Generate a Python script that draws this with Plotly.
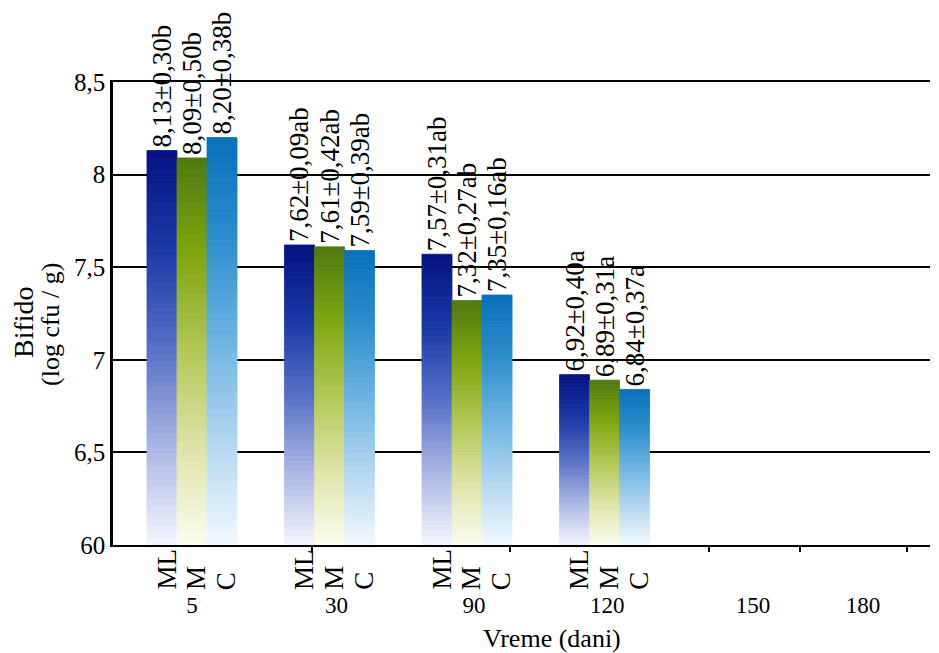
import plotly.graph_objects as go

# ---------------- data ----------------
days = ["5", "30", "90", "120", "150", "180"]
series = ["ML", "M", "C"]
ml_vals = [8.13, 7.62, 7.57, 6.92]
m_vals = [8.09, 7.61, 7.32, 6.89]
c_vals = [8.20, 7.59, 7.35, 6.84]
ml_lbl = ["8,13±0,30b", "7,62±0,09ab", "7,57±0,31ab", "6,92±0,40a"]
m_lbl = ["8,09±0,50b", "7,61±0,42ab", "7,32±0,27ab", "6,89±0,31a"]
c_lbl = ["8,20±0,38b", "7,59±0,39ab", "7,35±0,16ab", "6,84±0,37a"]
y_ticks = [6, 6.5, 7, 7.5, 8, 8.5]
y_ticktext = ["60", "6,5", "7", "7,5", "8", "8,5"]

# ---------------- styling ----------------
FONT = "Liberation Serif, Times New Roman, serif"
BASE = 6.0
NSEG = 60
BARGAP = 0.345
grad = {
    "ML": [(0.0, (244, 246, 253)), (0.25, (170, 182, 228)), (0.5, (88, 112, 198)),
           (0.75, (26, 56, 166)), (1.0, (6, 18, 130))],
    "M": [(0.0, (252, 252, 240)), (0.25, (222, 228, 168)), (0.5, (178, 200, 88)),
          (0.75, (128, 166, 16)), (1.0, (78, 122, 16))],
    "C": [(0.0, (242, 249, 254)), (0.25, (180, 215, 240)), (0.5, (110, 180, 226)),
          (0.75, (46, 142, 204)), (1.0, (8, 112, 188))],
}


def color_at(stops, f):
    for (f0, c0), (f1, c1) in zip(stops[:-1], stops[1:]):
        if f <= f1:
            t = (f - f0) / (f1 - f0)
            return "rgb(%d,%d,%d)" % tuple(round(a + (b - a) * t) for a, b in zip(c0, c1))
    return "rgb(%d,%d,%d)" % stops[-1][1]


xpos = list(range(len(ml_vals)))
fig = go.Figure()
for name, vals, lbls in [("ML", ml_vals, ml_lbl), ("M", m_vals, m_lbl), ("C", c_vals, c_lbl)]:
    h = [v - BASE for v in vals]
    for k in range(NSEG):
        f = (k + 0.5) / NSEG
        top = k == NSEG - 1
        col = color_at(grad[name], f)
        fig.add_trace(go.Bar(
            x=xpos,
            y=[hh / NSEG for hh in h],
            base=[BASE + hh * k / NSEG for hh in h],
            offsetgroup=name,
            marker=dict(color=col, line=dict(width=0.8, color=col)),
            text=lbls if top else None,
            textposition="outside" if top else "none",
            textangle=-90,
            constraintext="none",
            cliponaxis=False,
            textfont=dict(family=FONT, size=27, color="black"),
            showlegend=False,
            hoverinfo="skip",
        ))

# page geometry (the page body adds an 8px offset)
PL, PR, PT, PB = 113, 930, 82, 545
PW, PH = PR - PL, PB - PT


def px(xp):
    return (xp - PL) / PW


def py(yp):
    return (PB - yp) / PH


bw = (1 - BARGAP) / 3
annotations = []
for i in xpos:
    for s, name in enumerate(series):
        annotations.append(dict(
            x=i + (s - 1) * bw + 0.03, xref="x", y=py(592), yref="paper",
            text=name, textangle=-90, showarrow=False,
            xanchor="center", yanchor="bottom",
            font=dict(family=FONT, size=27, color="black"),
        ))

annotations += [
    dict(x=px(23), y=py(322), xref="paper", yref="paper",
         text="Bifido", textangle=-90, showarrow=False, xanchor="center", yanchor="middle",
         font=dict(family=FONT, size=28, color="black")),
    dict(x=px(50), y=py(325), xref="paper", yref="paper",
         text="(log cfu / g)", textangle=-90, showarrow=False, xanchor="center", yanchor="middle",
         font=dict(family=FONT, size=26, color="black")),
    dict(x=px(552), y=py(638), xref="paper", yref="paper",
         text="Vreme (dani)", showarrow=False, xanchor="center", yanchor="middle",
         font=dict(family=FONT, size=26, color="black")),
]

fig.update_layout(
    width=931, height=645,
    margin=dict(l=PL - 8, r=931 + 8 - PR, t=PT - 8, b=645 + 8 - PB),
    paper_bgcolor="white", plot_bgcolor="white",
    barmode="group", bargap=BARGAP, bargroupgap=0,
    annotations=annotations,
    font=dict(family=FONT, color="black"),
)
fig.update_xaxes(
    range=[-0.5745, 5.367],
    tickmode="array",
    tickvals=[0, 1.05, 2.05, 3.02, 4.08, 4.88],
    ticktext=days,
    ticks="",
    ticklabelstandoff=38,
    tickfont=dict(family=FONT, size=23, color="black"),
    showline=True, linecolor="black", linewidth=2,
    mirror=True,
    showgrid=False, zeroline=False,
    minor=dict(tickmode="array", tickvals=[0.873, 2.313, 3.76, 4.42, 5.2],
               ticks="outside", ticklen=5, tickwidth=2, tickcolor="black", showgrid=False),
)
fig.update_yaxes(
    range=[6, 8.5],
    tickmode="array", tickvals=y_ticks, ticktext=y_ticktext,
    ticks="inside", ticklen=4, tickwidth=2, tickcolor="black",
    tickfont=dict(family=FONT, size=25, color="black"),
    showline=True, linecolor="black", linewidth=2.5,
    showgrid=True, gridcolor="black", gridwidth=2,
    zeroline=False,
)

fig.write_html("out.html")
